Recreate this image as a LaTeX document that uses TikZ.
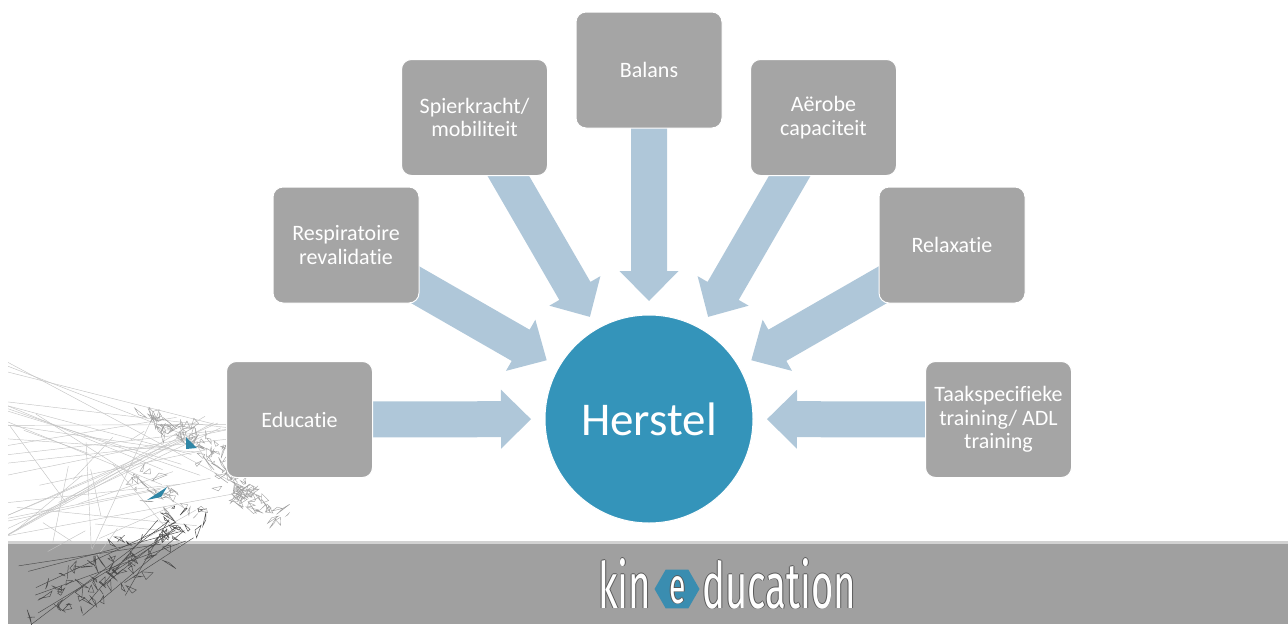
\documentclass[tikz,border=0pt]{standalone}
\usepackage{fontspec}
\setmainfont{Carlito}[Ligatures=NoCommon]
\newfontfamily\logofont{Fira Sans}
\usetikzlibrary{calc,shapes.geometric}

\definecolor{boxgray}{HTML}{A5A5A5}
\definecolor{arrowblue}{HTML}{AFC7D9}
\definecolor{hubblue}{HTML}{3494BA}
\definecolor{bandgray}{HTML}{A0A0A0}
\definecolor{bandedge}{HTML}{D2D2D2}
\definecolor{wirelight}{HTML}{C4C4C4}
\definecolor{wiremid}{HTML}{A0A0A0}
\definecolor{wiredark}{HTML}{4A4A4A}
\definecolor{wireteal}{HTML}{2F86A6}
\definecolor{logoedge}{HTML}{5A5A5A}
\definecolor{hexteal}{HTML}{3A8DB0}

\pgfdeclarelayer{back}
\pgfdeclarelayer{arrows}
\pgfsetlayers{back,arrows,main}

\tikzset{
  topic/.style={rectangle, rounded corners=10pt, fill=boxgray, draw=white,
    line width=1pt, minimum width=146pt, minimum height=116pt, text=white,
    align=center, inner sep=0pt, font=\fontsize{22}{23.5}\selectfont},
  hub/.style={circle, fill=hubblue, draw=white, line width=1pt,
    minimum size=208pt, inner sep=0pt, text=white,
    font=\fontsize{47}{50}\selectfont},
  flow/.style={fill=arrowblue},
  wire/.style={draw=wirelight, line width=0.45pt},
  wirem/.style={draw=wiremid, line width=0.4pt},
  wired/.style={draw=wiredark, line width=0.45pt},
  logoword/.style={inner sep=0pt, font=\logofont\fontsize{64}{64}\selectfont},
}

% block arrow from a topic box into the hub, tip 118pt from the hub centre
\newcommand\flowarrow[2]{%
  \path ($(#2.center)!118pt!(#1.center)$) coordinate (tip)
        ($(#2.center)!148pt!(#1.center)$) coordinate (hb);
  \fill[flow] (tip) -- ($(hb)!29.5pt!90:(#1.center)$)
    -- ($(hb)!18pt!90:(#1.center)$) -- ($(#1.center)!18pt!-90:(hb)$)
    -- ($(#1.center)!18pt!90:(hb)$) -- ($(hb)!18pt!-90:(#1.center)$)
    -- ($(hb)!29.5pt!-90:(#1.center)$) -- cycle;}

% small random-walk polylines scattered along a segment (a loose mesh)
\newcommand\meshalong[7]{%
  \foreach \i in {1,...,#6}{%
    \pgfmathsetmacro\tt{rnd}%
    \pgfmathsetmacro\xa{#1+(#3-#1)*\tt+rand*#5}%
    \pgfmathsetmacro\ya{#2+(#4-#2)*\tt+rand*#5}%
    \pgfmathsetmacro\xb{\xa+rand*8}%
    \pgfmathsetmacro\yb{\ya+rand*8}%
    \pgfmathsetmacro\xc{\xb+rand*8}%
    \pgfmathsetmacro\yc{\yb+rand*8}%
    \draw[#7] (\xa,\ya) -- (\xb,\yb) -- (\xc,\yc) -- cycle;}}

% white letters with a thin dark rim
\newcommand\logotext[1]{\scalebox{0.6}[1]{#1}}
\newcommand\outlined[1]{%
  \makebox[0pt][l]{\kern-0.8pt\textcolor{logoedge}{#1}}%
  \makebox[0pt][l]{\kern0.8pt\textcolor{logoedge}{#1}}%
  \makebox[0pt][l]{\raisebox{0.8pt}{\textcolor{logoedge}{#1}}}%
  \makebox[0pt][l]{\raisebox{-0.8pt}{\textcolor{logoedge}{#1}}}%
  \textcolor{white}{#1}}

\begin{document}
\begin{tikzpicture}[x=1pt, y=-1pt]
\useasboundingbox (0,0) rectangle (1288,624);

% footer band and the wireframe figure
\begin{pgfonlayer}{back}
  \fill[bandedge] (8,541) rectangle (1288,544);
  \fill[bandgray] (8,544) rectangle (1288,624);
  \begin{scope}
    \clip (8,340) rectangle (330,624);
    \pgfmathsetseed{2718}
    % long strands entering from the left edge
    \foreach \i in {1,...,26}{%
      \pgfmathsetmacro\ya{358+rnd*190}%
      \pgfmathsetmacro\xb{150+rnd*110}%
      \pgfmathsetmacro\yb{415+rnd*80}%
      \draw[wire] (8,\ya) -- (\xb,\yb);}
    % loose triangulation over the lower left
    \foreach \i in {1,...,22}{%
      \pgfmathsetmacro\xa{10+rnd*190}%
      \pgfmathsetmacro\ya{400+rnd*150}%
      \pgfmathsetmacro\xb{10+rnd*210}%
      \pgfmathsetmacro\yb{430+rnd*130}%
      \draw[wire] (\xa,\ya) -- (\xb,\yb);}
    \meshalong{150}{418}{205}{444}{6}{45}{wirem}
    \meshalong{200}{440}{255}{505}{10}{55}{wirem}
    \meshalong{242}{496}{287}{518}{5}{22}{wirem}
    \meshalong{125}{470}{200}{520}{12}{25}{wirem}
    \meshalong{192}{522}{45}{610}{20}{85}{wired}
    \foreach \i in {1,...,12}{%
      \pgfmathsetmacro\xa{150+rnd*45}%
      \pgfmathsetmacro\ya{515+rnd*30}%
      \pgfmathsetmacro\xb{8+rnd*120}%
      \pgfmathsetmacro\yb{545+rnd*79}%
      \draw[wired] (\xa,\ya) -- (\xb,\yb);}
    \fill[wireteal] (186,437) -- (197,448) -- (186,449) -- cycle;
    \fill[wireteal] (147,500) -- (167,487) -- (161,497) -- cycle;
  \end{scope}
\end{pgfonlayer}

% topics around the hub
\node[hub] (hub) at (649,419) {Herstel};
\node[topic] (edu)  at (299.5,419.5) {Educatie};
\node[topic] (resp) at (346,245)     {Respiratoire\\revalidatie};
\node[topic] (spier) at (474.5,117.5) {Spierkracht/\\mobiliteit};
\node[topic] (bal)  at (649,70)      {Balans};
\node[topic] (aero) at (823.5,117.5) {Aërobe\\capaciteit};
\node[topic] (relax) at (952,245)    {Relaxatie};
\node[topic] (taak) at (998.5,419.5) {Taakspecifieke\\training/ ADL\\training};

\begin{pgfonlayer}{arrows}
  \foreach \n in {edu,resp,spier,bal,aero,relax,taak}{\flowarrow{\n}{hub}}
\end{pgfonlayer}

% footer logo
\node[logoword, anchor=base west] (kin) at (598,608) {\outlined{\logotext{kin}}};
\node[regular polygon, regular polygon sides=6, minimum size=45pt,
      inner sep=0pt, fill=hexteal] (hex) at (677,589) {};
\node[logoword, anchor=base, font=\logofont\fontsize{50}{50}\selectfont]
      (eletter) at (677.5,603) {\outlined{\logotext{e}}};
\node[logoword, anchor=base west] (ducation) at (702,608) {\outlined{\logotext{ducation}}};
\end{tikzpicture}
\end{document}
